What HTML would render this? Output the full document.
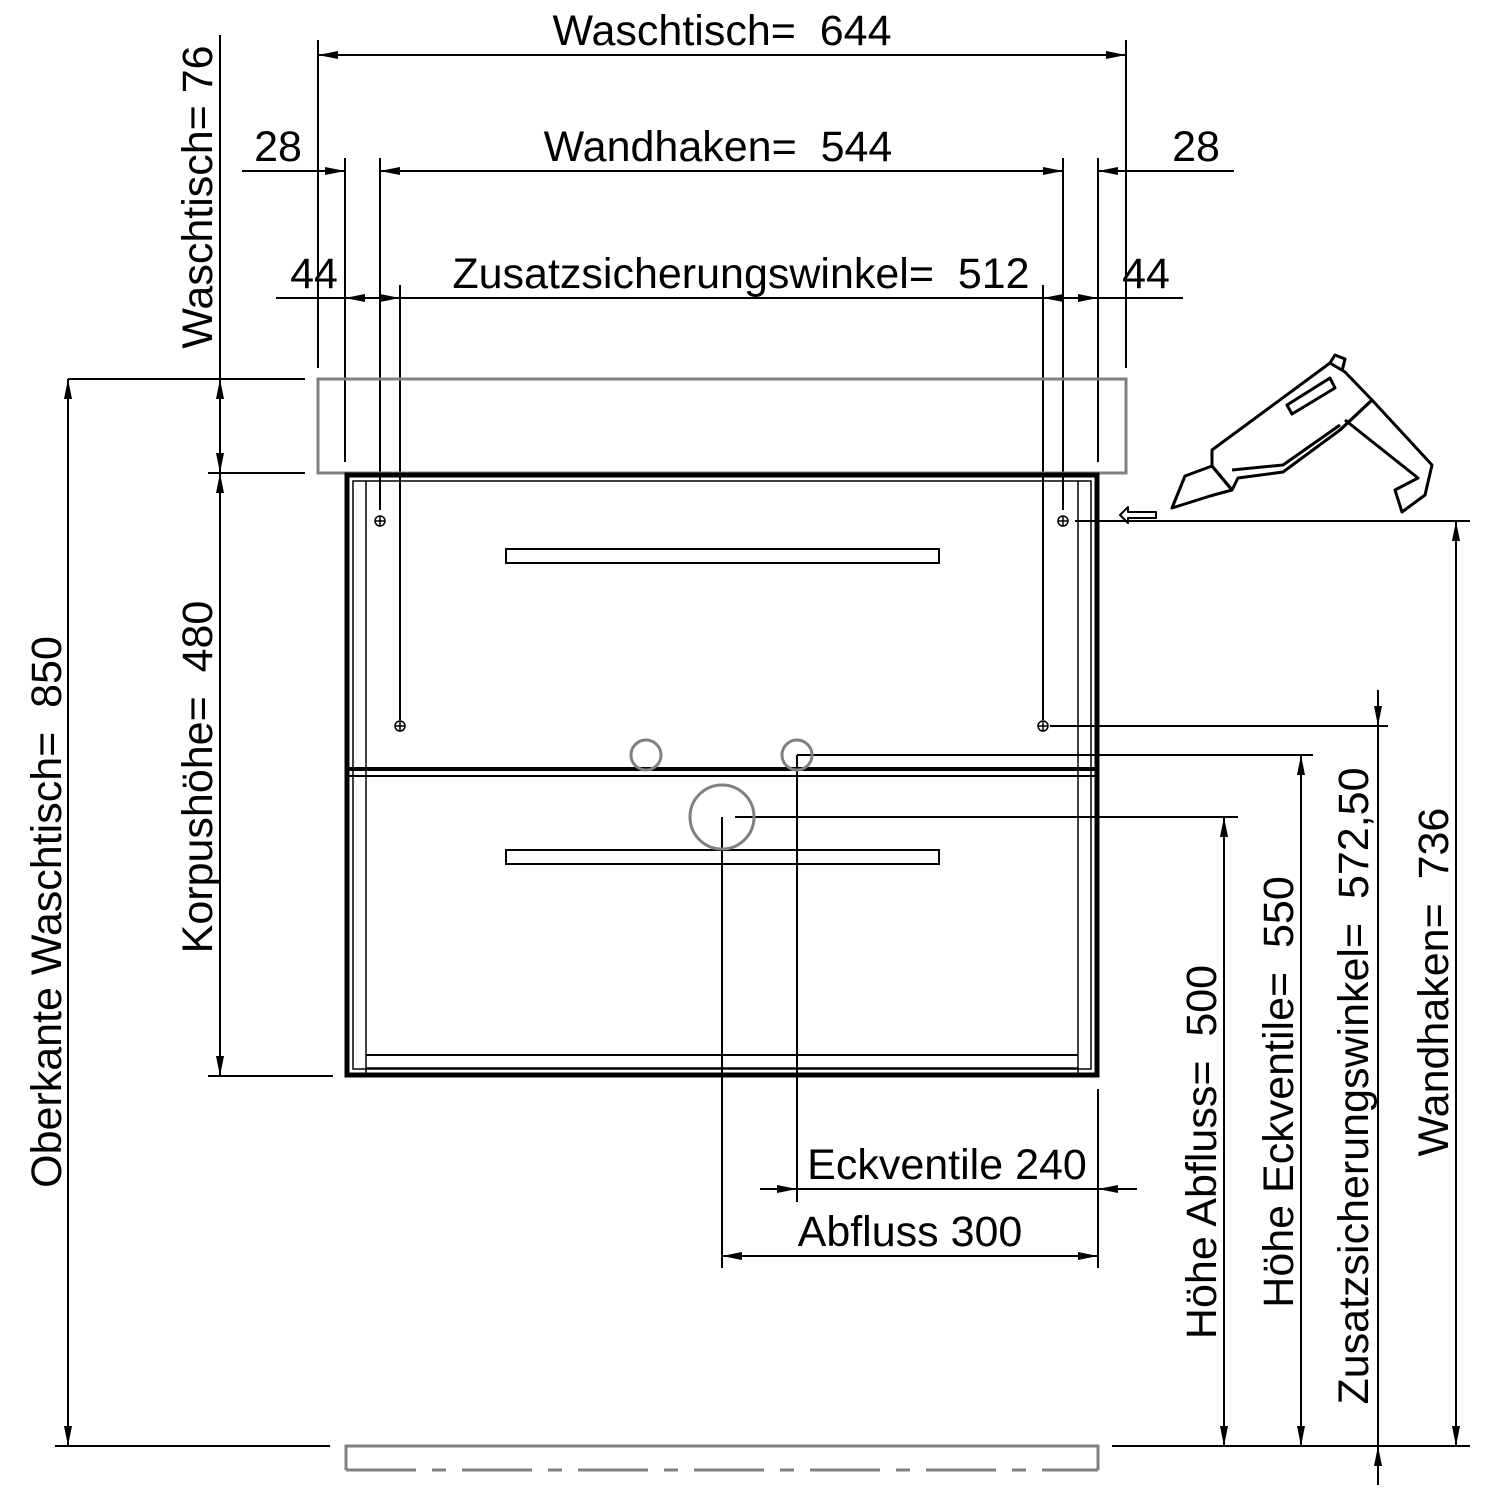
<!DOCTYPE html>
<html><head><meta charset="utf-8"><style>body{margin:0;background:#fff}svg{display:block}text{font-family:"Liberation Sans",sans-serif;font-size:43px;fill:#000}</style></head><body>
<svg width="1500" height="1500" viewBox="0 0 1500 1500" xmlns="http://www.w3.org/2000/svg">
<defs>
<marker id="a" viewBox="0 0 20 8" refX="20" refY="4" markerWidth="20" markerHeight="8" markerUnits="userSpaceOnUse" orient="auto-start-reverse"><path d="M0,0L20,4L0,8z" fill="#000"/></marker>
</defs>
<g stroke="#000" stroke-width="2" fill="none">
<line x1="318" y1="55" x2="1126" y2="55" marker-start="url(#a)" marker-end="url(#a)"/>
<line x1="318" y1="40" x2="318" y2="368"/><line x1="1126" y1="40" x2="1126" y2="368"/>
<line x1="242" y1="171" x2="345" y2="171" marker-end="url(#a)"/>
<line x1="400" y1="171" x2="380" y2="171" marker-end="url(#a)"/>
<line x1="380" y1="171" x2="1063" y2="171"/>
<line x1="1043" y1="171" x2="1063" y2="171" marker-end="url(#a)"/>
<line x1="1234" y1="171" x2="1098" y2="171" marker-end="url(#a)"/>
<line x1="345" y1="158" x2="345" y2="462"/><line x1="380" y1="158" x2="380" y2="510"/>
<line x1="1063" y1="158" x2="1063" y2="510"/><line x1="1098" y1="158" x2="1098" y2="462"/>
<line x1="276" y1="298" x2="1183" y2="298"/>
<line x1="372" y1="298" x2="345" y2="298" marker-end="url(#a)"/>
<line x1="372" y1="298" x2="400" y2="298" marker-end="url(#a)"/>
<line x1="1070" y1="298" x2="1043" y2="298" marker-end="url(#a)"/>
<line x1="1070" y1="298" x2="1098" y2="298" marker-end="url(#a)"/>
<line x1="400" y1="285" x2="400" y2="720"/><line x1="1043" y1="285" x2="1043" y2="720"/>
<line x1="220" y1="35" x2="220" y2="379"/>
<line x1="220" y1="426" x2="220" y2="379" marker-end="url(#a)"/>
<line x1="220" y1="426" x2="220" y2="473" marker-end="url(#a)"/>
<line x1="220" y1="473" x2="220" y2="1076" marker-start="url(#a)" marker-end="url(#a)"/>
<line x1="68" y1="379" x2="305" y2="379"/><line x1="208" y1="473" x2="305" y2="473"/>
<line x1="208" y1="1076" x2="333" y2="1076"/>
<line x1="68" y1="379" x2="68" y2="1446" marker-start="url(#a)" marker-end="url(#a)"/>
<line x1="55" y1="1446" x2="330" y2="1446"/><line x1="1112" y1="1446" x2="1470" y2="1446"/>
<line x1="1456" y1="521" x2="1456" y2="1446" marker-start="url(#a)" marker-end="url(#a)"/>
<line x1="1075" y1="521" x2="1470" y2="521"/>
<line x1="1378" y1="690" x2="1378" y2="726" marker-end="url(#a)"/>
<line x1="1378" y1="726" x2="1378" y2="1446"/>
<line x1="1378" y1="1485" x2="1378" y2="1446" marker-end="url(#a)"/>
<line x1="1050" y1="726" x2="1388" y2="726"/>
<line x1="1301" y1="755" x2="1301" y2="1446" marker-start="url(#a)" marker-end="url(#a)"/>
<line x1="797" y1="755" x2="1313" y2="755"/>
<line x1="1224" y1="817" x2="1224" y2="1446" marker-start="url(#a)" marker-end="url(#a)"/>
<line x1="735" y1="817" x2="1238" y2="817"/>
<line x1="760" y1="1189" x2="797" y2="1189" marker-end="url(#a)"/>
<line x1="797" y1="1189" x2="1098" y2="1189"/>
<line x1="1137" y1="1189" x2="1098" y2="1189" marker-end="url(#a)"/>
<line x1="722" y1="1256" x2="1098" y2="1256" marker-start="url(#a)" marker-end="url(#a)"/>
<line x1="797" y1="755" x2="797" y2="1202"/><line x1="722" y1="817" x2="722" y2="1268"/>
<line x1="1098" y1="1089" x2="1098" y2="1268"/>
<rect x="318" y="379" width="808" height="94" stroke="#808080" stroke-width="3"/>
<rect x="347" y="475" width="750" height="600" stroke-width="5"/>
<rect x="353" y="481" width="738" height="588" stroke-width="1.5"/>
<line x1="366" y1="481" x2="366" y2="1075" stroke-width="1.5"/>
<line x1="1078" y1="481" x2="1078" y2="1075" stroke-width="1.5"/>
<line x1="347" y1="769" x2="1097" y2="769" stroke-width="4"/>
<line x1="347" y1="776" x2="1097" y2="776" stroke-width="2"/>
<line x1="366" y1="1055" x2="1078" y2="1055" stroke-width="2"/>
<line x1="366" y1="1068" x2="1078" y2="1068" stroke-width="1.5"/>
<rect x="506" y="549" width="433" height="14"/>
<rect x="506" y="850" width="433" height="14"/>
<circle cx="646" cy="755" r="15" stroke="#808080" stroke-width="3"/>
<circle cx="797" cy="755" r="15" stroke="#808080" stroke-width="3"/>
<circle cx="722" cy="817" r="32" stroke="#808080" stroke-width="3"/>
<g stroke-width="1.5">
<circle cx="380" cy="521" r="5"/><path d="M375 521h10M380 516v10"/>
<circle cx="1063" cy="521" r="5"/><path d="M1058 521h10M1063 516v10"/>
<circle cx="400" cy="726" r="5"/><path d="M395 726h10M400 721v10"/>
<circle cx="1043" cy="726" r="5"/><path d="M1038 726h10M1043 721v10"/>
</g>
<path d="M346 1470V1446H1098V1470" stroke="#808080" stroke-width="3"/>
<path d="M346 1470H1098" stroke="#808080" stroke-width="3" stroke-dasharray="70,16,14,16"/>
<g stroke-width="3" stroke-linejoin="round">
<path d="M1120 515l8 -8v5h28v6h-28v5z" stroke-width="2"/>
<path d="M1172 508l13 -32 27 -10 20 24 -22 6z"/>
<path d="M1212 450L1330 363L1345 372L1372 400L1340 430L1283 472L1238 478L1232 490L1212 466Z"/>
<path d="M1232 470L1283 465L1340 425"/>
<path d="M1340 430L1372 400L1432 465L1425 495L1402 512L1395 490L1418 478L1345 420"/>
<path d="M1287 405L1330 378L1335 388L1292 414Z"/>
<path d="M1330 363l5 -8 10 4 -3 12"/>
</g>
</g>
<text x="722" y="45" text-anchor="middle">Waschtisch=&#160; 644</text>
<text x="718" y="161" text-anchor="middle">Wandhaken=&#160; 544</text>
<text x="741" y="288" text-anchor="middle">Zusatzsicherungswinkel=&#160; 512</text>
<text x="278" y="161" text-anchor="middle">28</text>
<text x="1196" y="161" text-anchor="middle">28</text>
<text x="314" y="288" text-anchor="middle">44</text>
<text x="1146" y="288" text-anchor="middle">44</text>
<text x="947" y="1179" text-anchor="middle">Eckventile 240</text>
<text x="910" y="1246" text-anchor="middle">Abfluss 300</text>
<text transform="translate(212,197) rotate(-90)" text-anchor="middle">Waschtisch= 76</text>
<text transform="translate(212,777) rotate(-90)" text-anchor="middle">Korpushöhe=&#160; 480</text>
<text transform="translate(61,912) rotate(-90)" text-anchor="middle">Oberkante Waschtisch=&#160; 850</text>
<text transform="translate(1216,1152) rotate(-90)" text-anchor="middle">Höhe Abfluss=&#160; 500</text>
<text transform="translate(1293,1092) rotate(-90)" text-anchor="middle">Höhe Eckventile=&#160; 550</text>
<text transform="translate(1368,1086) rotate(-90)" text-anchor="middle">Zusatzsicherungswinkel=&#160; 572,50</text>
<text transform="translate(1448,982) rotate(-90)" text-anchor="middle">Wandhaken=&#160; 736</text>
</svg>
</body></html>
